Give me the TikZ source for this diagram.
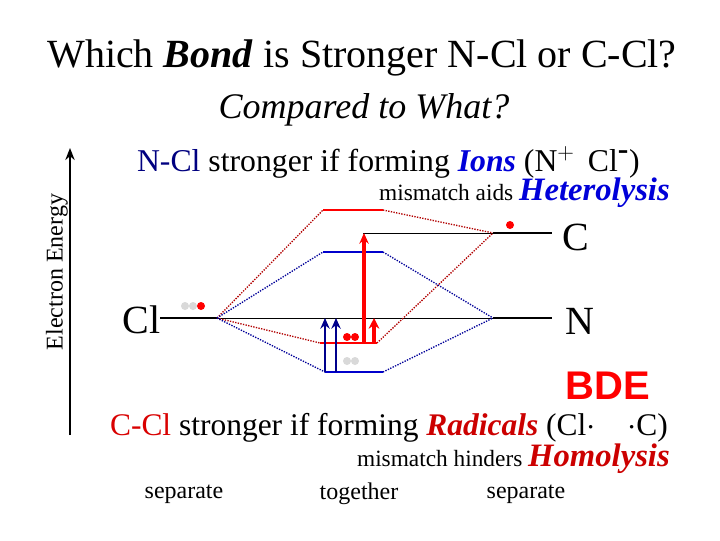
\documentclass[tikz,border=0pt]{standalone}
\usepackage{fontspec}
\usetikzlibrary{arrows.meta}
\setmainfont{Liberation Serif}
\setsansfont{Liberation Sans}
\begin{document}
\begin{tikzpicture}[x=0.75pt,y=-0.75pt,
 lvl/.style={line width=2.2pt},
 thin/.style={line width=0.6pt},
 rdot/.style={densely dotted,line width=1pt,draw=red!70!black},
 bdot/.style={densely dotted,line width=1pt,draw=blue!60!black},
 dotr/.style={circle,fill=red,inner sep=0pt,minimum size=6pt},
 dotg/.style={circle,fill=gray!30,inner sep=0pt,minimum size=6pt},
 txt/.style={inner sep=0pt}]
\useasboundingbox (0,0) rectangle (720,540);
\fill[white] (0,0) rectangle (720,540);
\node[txt] (title) at (362,58) {\fontsize{30}{34}\selectfont Which \textbf{\textit{Bond}} is Stronger N-Cl or C-Cl?};
\node[txt] (cmp) at (364,110) {\fontsize{27}{30}\selectfont\itshape Compared to What?};
\node[txt,anchor=east] (ions) at (640,162) {\fontsize{23.8}{26}\selectfont\textcolor{blue!50!black}{N-Cl} stronger if forming \textcolor{blue!85!black}{\textbf{\textit{Ions}}} (N$^{+}$\, Cl$^{\textbf{-}}$)};
\node[txt,anchor=east] (het) at (670,193) {\fontsize{17.5}{20}\selectfont mismatch aids \textcolor{blue!85!black}{\fontsize{24.5}{28}\selectfont\textbf{\textit{Heterolysis}}}};
\node[txt,rotate=90] (ee) at (57,272) {\fontsize{18}{20}\selectfont Electron Energy};
\coordinate (ab) at (70,435); \coordinate (at) at (70,148);
\draw[line width=1.8pt,-{Stealth[length=9pt,width=7pt]}] (ab) -- (at);
% atomic levels
\coordinate (cl1) at (160,318); \coordinate (cl2) at (217,318);
\coordinate (n1) at (493,318); \coordinate (n2) at (552,318);
\coordinate (c1) at (493,233); \coordinate (c2) at (552,233);
\draw[lvl] (cl1) -- (cl2); \draw[lvl] (n1) -- (n2); \draw[lvl] (c1) -- (c2);
\node[txt,anchor=east] (cl) at (161,320) {\fontsize{30}{32}\selectfont Cl};
\node[txt,anchor=west] (n) at (565,321) {\fontsize{30}{32}\selectfont N};
\node[txt,anchor=west] (c) at (562,237) {\fontsize{30}{32}\selectfont C};
% MO levels
\coordinate (rt1) at (323,210); \coordinate (rt2) at (383,210);
\coordinate (bt1) at (323,252); \coordinate (bt2) at (383,252);
\coordinate (rb1) at (320,343); \coordinate (rb2) at (377,343);
\coordinate (bb1) at (325,372); \coordinate (bb2) at (383,372);
\coordinate (ct) at (363,233);
\draw[thin] (cl2) -- (n1);
\draw[thin] (ct) -- (c1);
\draw[rdot] (cl2) -- (rt1); \draw[rdot] (rt2) -- (c1);
\draw[rdot] (cl2) -- (rb1); \draw[rdot] (rb2) -- (c1);
\draw[bdot] (cl2) -- (bt1); \draw[bdot] (bt2) -- (n1);
\draw[bdot] (cl2) -- (bb1); \draw[bdot] (bb2) -- (n1);
\draw[lvl,red] (rt1) -- (rt2);
\draw[lvl,blue!80!black] (bt1) -- (bt2);
\draw[lvl,red] (rb1) -- (rb2);
\draw[lvl,blue!80!black] (bb1) -- (bb2);
% arrows
\coordinate (ba1) at (325,372); \coordinate (ba1t) at (325,318);
\coordinate (ba2) at (336,372); \coordinate (ba2t) at (336,318);
\draw[line width=2.2pt,blue!55!black,-{Stealth[length=8pt,width=7pt]}] (ba1) -- (ba1t);
\draw[line width=2.2pt,blue!55!black,-{Stealth[length=8pt,width=7pt]}] (ba2) -- (ba2t);
\coordinate (ra1) at (364,343); \coordinate (ra1t) at (364,233);
\coordinate (ra2) at (374,343); \coordinate (ra2t) at (374,318);
\draw[line width=2.4pt,red,-{Stealth[length=8pt,width=7pt]}] (ra1) -- (ra1t);
\draw[line width=3.4pt,red,-{Stealth[length=8pt,width=8pt]}] (ra2) -- (ra2t);
% dots
\node[dotg] (d1) at (185,306) {}; \node[dotg] (d2) at (193,306) {}; \node[dotr] (d3) at (201,306) {};
\node[dotr] (d4) at (347,337) {}; \node[dotr] (d5) at (355,337) {};
\node[dotg] (d6) at (347,361) {}; \node[dotg] (d7) at (355,361) {};
\node[dotr] (d8) at (510,225) {};
\node[txt] (bde) at (608,386) {\fontsize{30}{32}\selectfont\sffamily\bfseries\textcolor{red}{BDE}};
\node[txt,anchor=east] (rad) at (668,428) {\fontsize{23.6}{26}\selectfont\textcolor{red!85!black}{C-Cl} stronger if forming \textcolor{red!80!black}{\textbf{\textit{Radicals}}} (Cl$\cdot$\quad$\cdot$C)};
\node[txt,anchor=east] (hom) at (670,459) {\fontsize{17.5}{20}\selectfont mismatch hinders \textcolor{red!80!black}{\fontsize{24.5}{28}\selectfont\textbf{\textit{Homolysis}}}};
\node[txt] (s1) at (184,494) {\fontsize{18}{20}\selectfont separate};
\node[txt] (tg) at (359,494) {\fontsize{18}{20}\selectfont together};
\node[txt] (s2) at (526,494) {\fontsize{18}{20}\selectfont separate};
\end{tikzpicture}
\end{document}
